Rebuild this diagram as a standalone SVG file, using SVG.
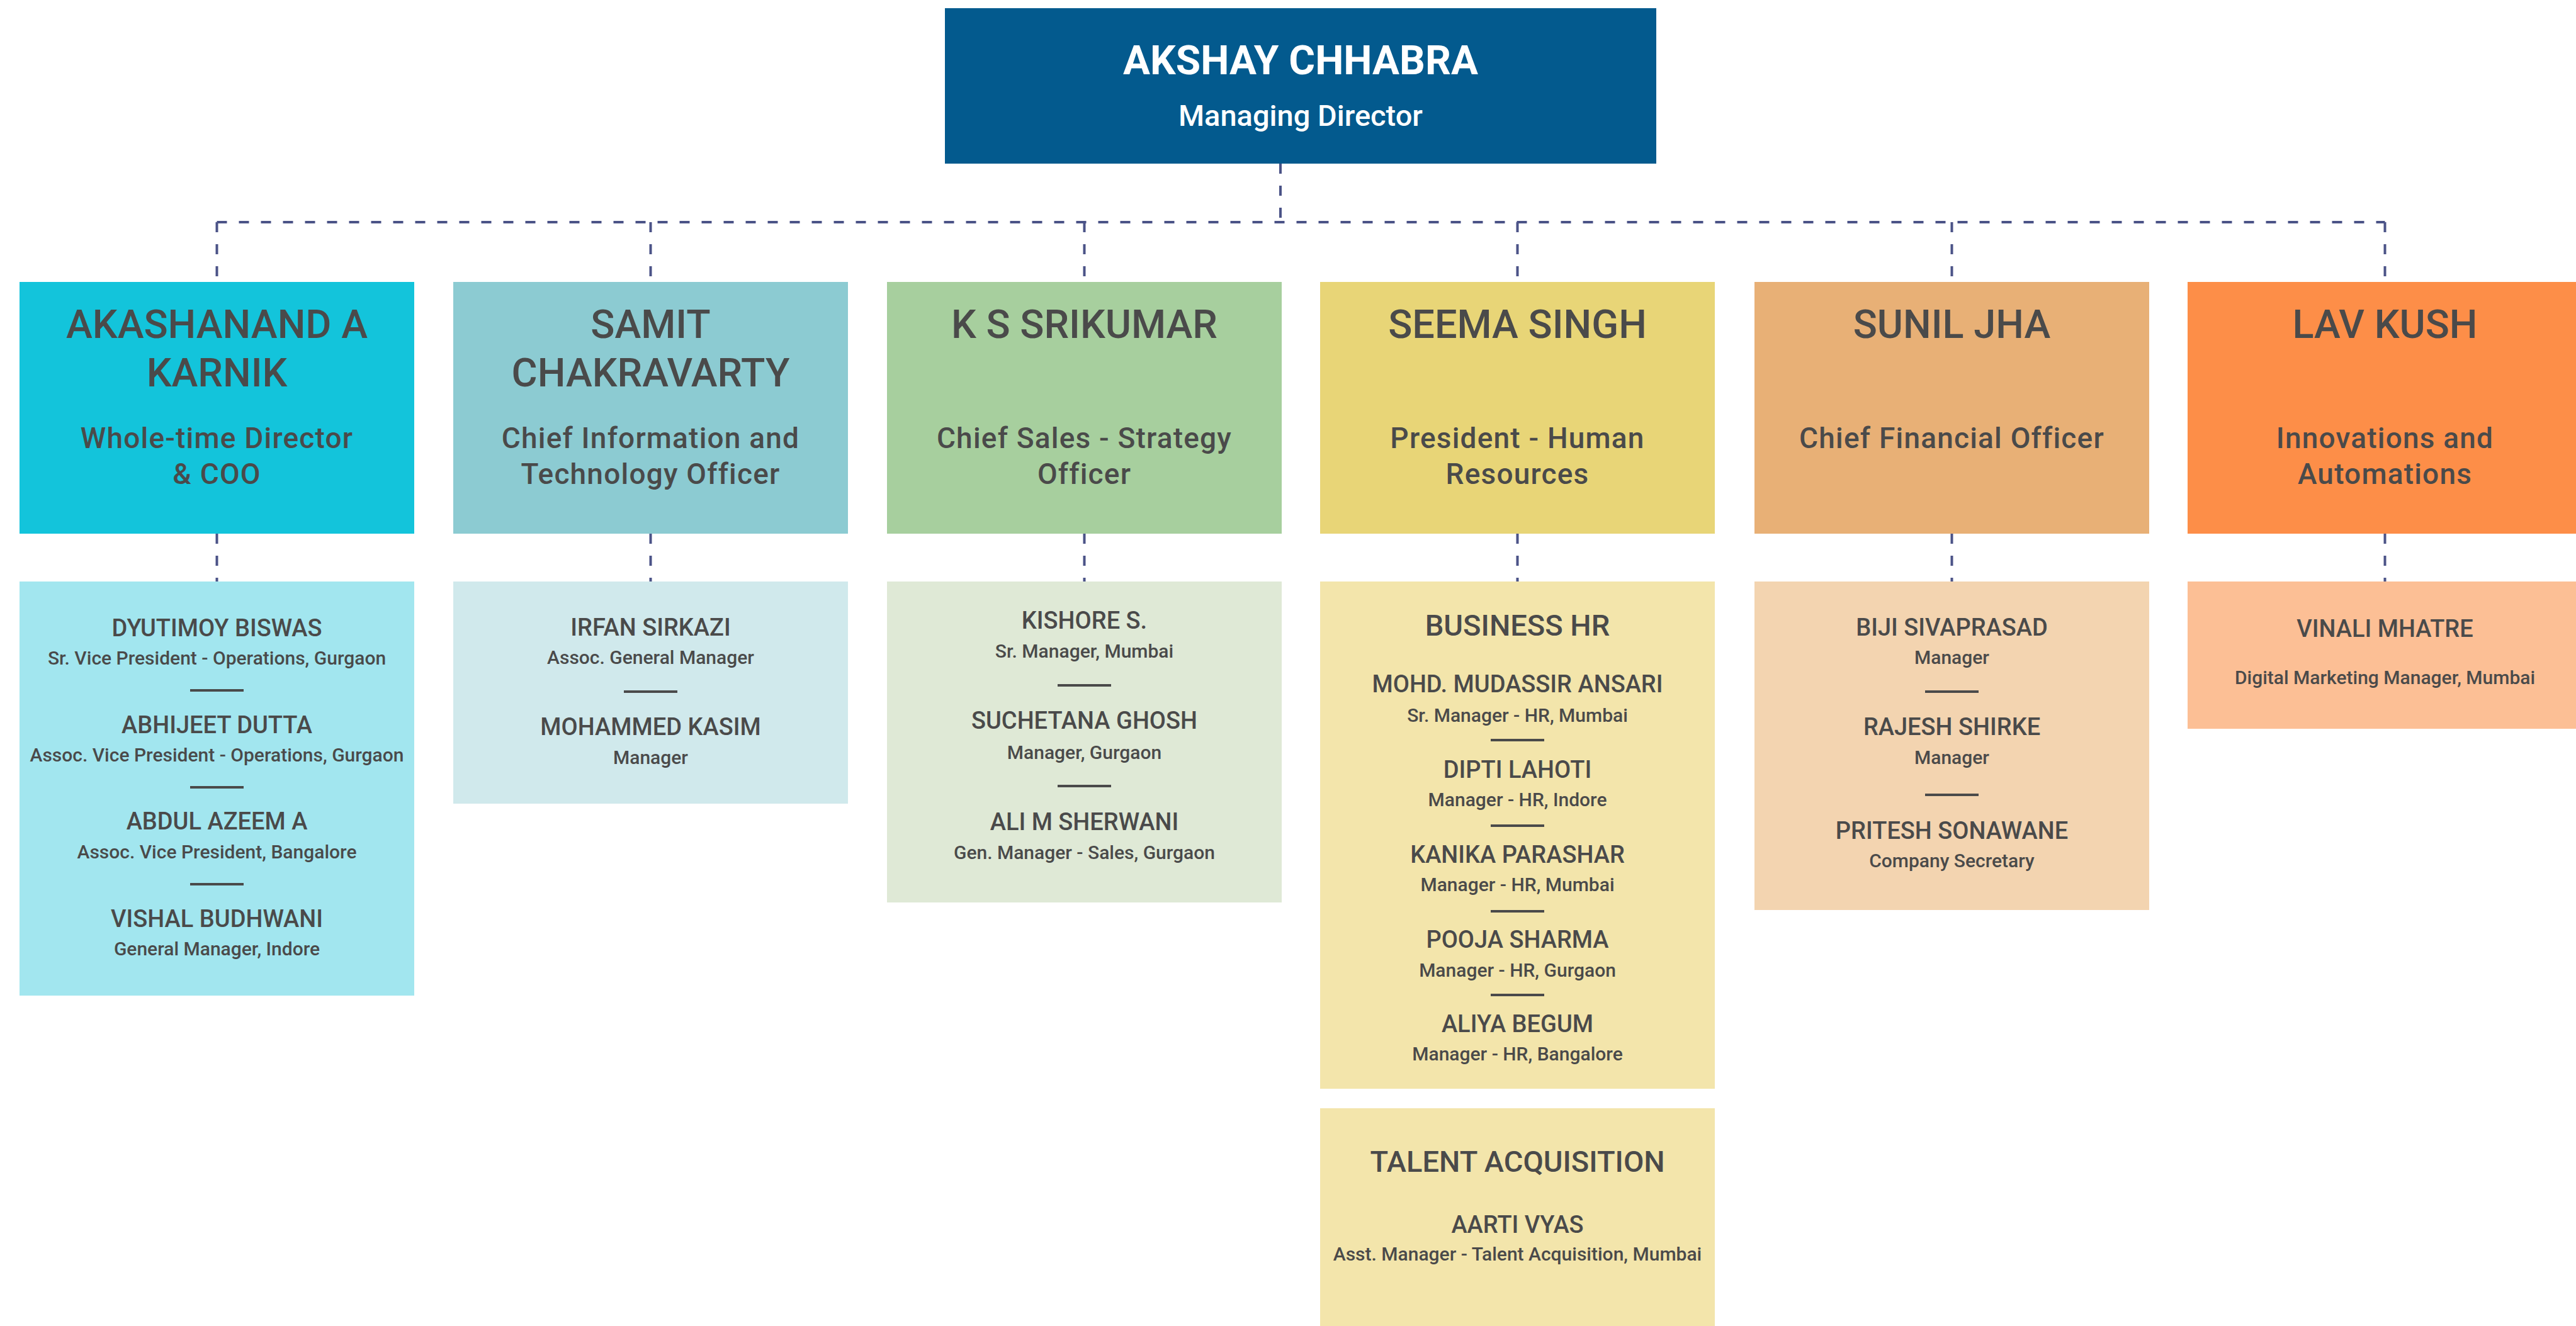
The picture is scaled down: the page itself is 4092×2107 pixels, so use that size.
<svg xmlns="http://www.w3.org/2000/svg" width="4092" height="2107" viewBox="0 0 4092 2107">
  <style>
    text { font-family: Roboto, "Liberation Sans", sans-serif; text-anchor: middle; fill: #4a4a4a; }
    .md-name { font-size: 64px; font-weight: 700; fill: #ffffff; }
    .md-role { font-size: 47px; font-weight: 500; fill: #ffffff; }
    .head { font-size: 63px; font-weight: 500; }
    .role { font-size: 46px; font-weight: 500; letter-spacing: 1.2px; }
    .sec { font-size: 47px; font-weight: 500; }
    .nm { font-size: 38px; font-weight: 500; }
    .ttl { font-size: 30px; font-weight: 500; }
    .sep { stroke: #4a4a4a; stroke-width: 4; }
    .link { fill: none; stroke: #4b5387; stroke-width: 4; stroke-dasharray: 16 19; }
  </style>

  <rect width="4092" height="2107" fill="#ffffff"/>

  <!-- connectors -->
  <g id="connectors">
    <path class="link" d="M2034 260 V353"/>
    <path class="link" d="M344.5 353 H3788.5"/>
    <path class="link" d="M344.5 353 V448"/>
    <path class="link" d="M1033.5 353 V448"/>
    <path class="link" d="M1722.5 353 V448"/>
    <path class="link" d="M2410.5 353 V448"/>
    <path class="link" d="M3100.5 353 V448"/>
    <path class="link" d="M3788.5 353 V448"/>
    <path class="link" d="M344.5 848 V924"/>
    <path class="link" d="M1033.5 848 V924"/>
    <path class="link" d="M1722.5 848 V924"/>
    <path class="link" d="M2410.5 848 V924"/>
    <path class="link" d="M3100.5 848 V924"/>
    <path class="link" d="M3788.5 848 V924"/>
  </g>

  <!-- managing director -->
  <g id="md">
    <rect x="1501" y="13" width="1130" height="247" fill="#035a8e"/>
    <text class="md-name" x="2066" y="118">AKSHAY CHHABRA</text>
    <text class="md-role" x="2066" y="200">Managing Director</text>
  </g>

  <!-- direct reports -->
  <g id="karnik">
    <rect x="31" y="448" width="627" height="400" fill="#13c4db"/>
    <text class="head" x="344.5" y="537">AKASHANAND A</text>
    <text class="head" x="344.5" y="614">KARNIK</text>
    <text class="role" x="344.5" y="712">Whole-time Director</text>
    <text class="role" x="344.5" y="769">&amp; COO</text>
  </g>
  <g id="chakravarty">
    <rect x="720" y="448" width="627" height="400" fill="#8ccbd2"/>
    <text class="head" x="1033.5" y="537">SAMIT</text>
    <text class="head" x="1033.5" y="614">CHAKRAVARTY</text>
    <text class="role" x="1033.5" y="712">Chief Information and</text>
    <text class="role" x="1033.5" y="769">Technology Officer</text>
  </g>
  <g id="srikumar">
    <rect x="1409" y="448" width="627" height="400" fill="#a7cf9e"/>
    <text class="head" x="1722.5" y="537">K S SRIKUMAR</text>
    <text class="role" x="1722.5" y="712">Chief Sales - Strategy</text>
    <text class="role" x="1722.5" y="769">Officer</text>
  </g>
  <g id="singh">
    <rect x="2097" y="448" width="627" height="400" fill="#e8d577"/>
    <text class="head" x="2410.5" y="537">SEEMA SINGH</text>
    <text class="role" x="2410.5" y="712">President - Human</text>
    <text class="role" x="2410.5" y="769">Resources</text>
  </g>
  <g id="jha">
    <rect x="2787" y="448" width="627" height="400" fill="#e8b076"/>
    <text class="head" x="3100.5" y="537">SUNIL JHA</text>
    <text class="role" x="3100.5" y="712">Chief Financial Officer</text>
  </g>
  <g id="kush">
    <rect x="3475" y="448" width="627" height="400" fill="#fd8e48"/>
    <text class="head" x="3788.5" y="537">LAV KUSH</text>
    <text class="role" x="3788.5" y="712">Innovations and</text>
    <text class="role" x="3788.5" y="769">Automations</text>
  </g>

  <!-- teams -->
  <g id="ops-team">
    <rect x="31" y="924" width="627" height="658" fill="#a2e6ef"/>
    <text class="nm" x="344.5" y="1011">DYUTIMOY BISWAS</text>
    <text class="ttl" x="344.5" y="1056">Sr. Vice President - Operations, Gurgaon</text>
    <line class="sep" x1="302" y1="1097" x2="387" y2="1097"/>
    <text class="nm" x="344.5" y="1165">ABHIJEET DUTTA</text>
    <text class="ttl" x="344.5" y="1210">Assoc. Vice President - Operations, Gurgaon</text>
    <line class="sep" x1="302" y1="1251" x2="387" y2="1251"/>
    <text class="nm" x="344.5" y="1318">ABDUL AZEEM A</text>
    <text class="ttl" x="344.5" y="1364">Assoc. Vice President, Bangalore</text>
    <line class="sep" x1="302" y1="1405" x2="387" y2="1405"/>
    <text class="nm" x="344.5" y="1473">VISHAL BUDHWANI</text>
    <text class="ttl" x="344.5" y="1518">General Manager, Indore</text>
  </g>
  <g id="it-team">
    <rect x="720" y="924" width="627" height="353" fill="#d0e9ec"/>
    <text class="nm" x="1033.5" y="1010">IRFAN SIRKAZI</text>
    <text class="ttl" x="1033.5" y="1055">Assoc. General Manager</text>
    <line class="sep" x1="991" y1="1099" x2="1076" y2="1099"/>
    <text class="nm" x="1033.5" y="1168">MOHAMMED KASIM</text>
    <text class="ttl" x="1033.5" y="1214">Manager</text>
  </g>
  <g id="sales-team">
    <rect x="1409" y="924" width="627" height="510" fill="#dfe9d6"/>
    <text class="nm" x="1722.5" y="999">KISHORE S.</text>
    <text class="ttl" x="1722.5" y="1045">Sr. Manager, Mumbai</text>
    <line class="sep" x1="1680" y1="1089" x2="1765" y2="1089"/>
    <text class="nm" x="1722.5" y="1158">SUCHETANA GHOSH</text>
    <text class="ttl" x="1722.5" y="1206">Manager, Gurgaon</text>
    <line class="sep" x1="1680" y1="1249" x2="1765" y2="1249"/>
    <text class="nm" x="1722.5" y="1319">ALI M SHERWANI</text>
    <text class="ttl" x="1722.5" y="1365">Gen. Manager - Sales, Gurgaon</text>
  </g>
  <g id="business-hr">
    <rect x="2097" y="924" width="627" height="806" fill="#f3e5ab"/>
    <text class="sec" x="2410.5" y="1010">BUSINESS HR</text>
    <text class="nm" x="2410.5" y="1100">MOHD. MUDASSIR ANSARI</text>
    <text class="ttl" x="2410.5" y="1147">Sr. Manager - HR, Mumbai</text>
    <line class="sep" x1="2368" y1="1176" x2="2453" y2="1176"/>
    <text class="nm" x="2410.5" y="1236">DIPTI LAHOTI</text>
    <text class="ttl" x="2410.5" y="1281">Manager - HR, Indore</text>
    <line class="sep" x1="2368" y1="1312" x2="2453" y2="1312"/>
    <text class="nm" x="2410.5" y="1371">KANIKA PARASHAR</text>
    <text class="ttl" x="2410.5" y="1416">Manager - HR, Mumbai</text>
    <line class="sep" x1="2368" y1="1448" x2="2453" y2="1448"/>
    <text class="nm" x="2410.5" y="1506">POOJA SHARMA</text>
    <text class="ttl" x="2410.5" y="1552">Manager - HR, Gurgaon</text>
    <line class="sep" x1="2368" y1="1581" x2="2453" y2="1581"/>
    <text class="nm" x="2410.5" y="1640">ALIYA BEGUM</text>
    <text class="ttl" x="2410.5" y="1685">Manager - HR, Bangalore</text>
  </g>
  <g id="talent-acquisition">
    <rect x="2097" y="1761" width="627" height="360" fill="#f3e5ab"/>
    <text class="sec" x="2410.5" y="1862">TALENT ACQUISITION</text>
    <text class="nm" x="2410.5" y="1959">AARTI VYAS</text>
    <text class="ttl" x="2410.5" y="2003">Asst. Manager - Talent Acquisition, Mumbai</text>
  </g>
  <g id="finance-team">
    <rect x="2787" y="924" width="627" height="522" fill="#f3d4b0"/>
    <text class="nm" x="3100.5" y="1010">BIJI SIVAPRASAD</text>
    <text class="ttl" x="3100.5" y="1055">Manager</text>
    <line class="sep" x1="3058" y1="1099" x2="3143" y2="1099"/>
    <text class="nm" x="3100.5" y="1168">RAJESH SHIRKE</text>
    <text class="ttl" x="3100.5" y="1214">Manager</text>
    <line class="sep" x1="3058" y1="1263" x2="3143" y2="1263"/>
    <text class="nm" x="3100.5" y="1333">PRITESH SONAWANE</text>
    <text class="ttl" x="3100.5" y="1378">Company Secretary</text>
  </g>
  <g id="innovation-team">
    <rect x="3475" y="924" width="627" height="234" fill="#fcbf95"/>
    <text class="nm" x="3788.5" y="1012">VINALI MHATRE</text>
    <text class="ttl" x="3788.5" y="1087">Digital Marketing Manager, Mumbai</text>
  </g>
</svg>
